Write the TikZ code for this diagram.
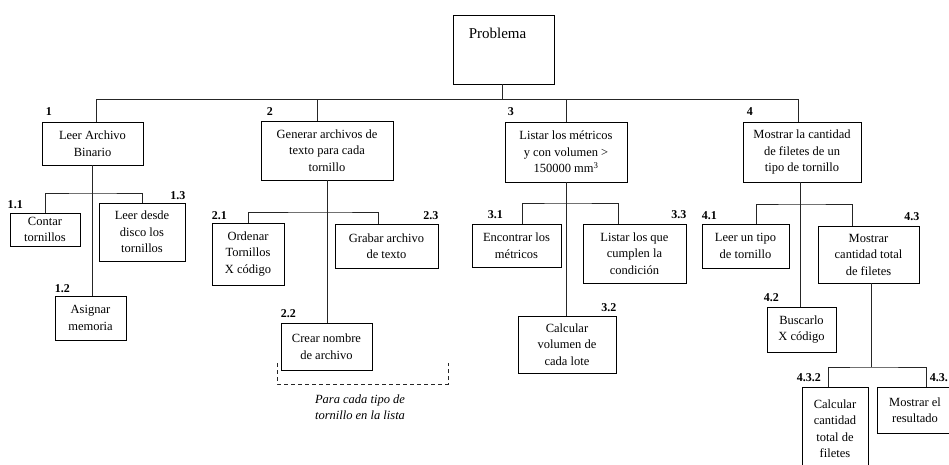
\documentclass[tikz,border=0pt]{standalone}
\usepackage{fontspec}
\setmainfont{Liberation Serif}
\tikzset{
  box/.style={draw=black, line width=0.9pt, inner sep=0pt, align=center,
    font=\fontsize{12.5}{16.5}\selectfont},
  lbl/.style={inner sep=0pt, font=\fontsize{12}{12}\selectfont\bfseries},
  conn/.style={draw=black!85, line width=0.9pt},
  note/.style={inner sep=0pt, align=center, font=\fontsize{12.5}{15.5}\selectfont\itshape}
}
\newcommand{\tbox}[6]{\node[box, minimum width={#3-#2}, minimum height={#5-#4}] (#1) at ({(#2+#3)/2},{(#4+#5)/2}) {#6};}
\begin{document}
\begin{tikzpicture}[x=1pt,y=-1pt]
\useasboundingbox (0,0) rectangle (949,465);
\clip (0,0) rectangle (949,465);
\fill[white] (0,0) rectangle (949,465);
% boxes
\tbox{P}{453}{554}{15}{84}{}
\node[inner sep=0pt, font=\fontsize{15}{15}\selectfont] (ptext) at (497.5,33) {Problema};
\tbox{n1}{42}{143}{122}{165}{Leer Archivo\\Binario}
\tbox{n2}{261}{393}{121}{180}{Generar archivos de\\texto para cada\\tornillo}
\tbox{n3}{505}{627}{122}{182}{Listar los métricos\\y con volumen >\\150000 mm\textsuperscript{3}}
\tbox{n4}{743}{861}{122}{182}{Mostrar la cantidad\\de filetes de un\\tipo de tornillo}
\tbox{n11}{10}{80}{213}{246}{Contar\\tornillos}
\tbox{n12}{55}{126}{296}{340}{Asignar\\memoria}
\tbox{n13}{99}{185}{203}{261}{Leer desde\\disco los\\tornillos}
\tbox{n21}{212}{284}{223}{285}{Ordenar\\Tornillos\\X código}
\tbox{n22}{281}{372}{323}{370}{Crear nombre\\de archivo}
\tbox{n23}{335}{438}{224}{268}{Grabar archivo\\de texto}
\tbox{n31}{472}{561}{224}{267}{Encontrar los\\métricos}
\tbox{n32}{518}{616}{316}{373}{Calcular\\volumen de\\cada lote}
\tbox{n33}{583}{686}{224}{283}{Listar los que\\cumplen la\\condición}
\tbox{n41}{702}{789}{224}{268}{Leer un tipo\\de tornillo}
\tbox{n42}{767}{836}{307}{352}{Buscarlo\\X código}
\tbox{n43}{818}{919}{226}{283}{Mostrar\\cantidad total\\de filetes}
\tbox{n432}{802}{868}{387}{470}{Calcular\\cantidad\\total de\\filetes}
\tbox{n433}{877}{953}{387}{433}{Mostrar el\\resultado}
% labels
\node[lbl, anchor=west] (l1) at ([xshift=4pt, yshift=10pt]n1.north west) {1};
\node[lbl, anchor=west] (l2) at ([xshift=6pt, yshift=9pt]n2.north west) {2};
\node[lbl, anchor=west] (l3) at ([xshift=3pt, yshift=10pt]n3.north west) {3};
\node[lbl, anchor=west] (l4) at ([xshift=4pt, yshift=10pt]n4.north west) {4};
\node[lbl, anchor=west] (l11) at ([xshift=-2pt, yshift=8pt]n11.north west) {1.1};
\node[lbl, anchor=east] (l13) at ([yshift=7pt]n13.north east) {1.3};
\node[lbl, anchor=west] (l12) at ([yshift=7pt]n12.north west) {1.2};
\node[lbl, anchor=west] (l21) at ([yshift=7pt]n21.north west) {2.1};
\node[lbl, anchor=east] (l23) at ([yshift=8pt]n23.north east) {2.3};
\node[lbl, anchor=west] (l22) at ([yshift=9pt]n22.north west) {2.2};
\node[lbl, anchor=west] (l31) at ([xshift=16pt, yshift=9pt]n31.north west) {3.1};
\node[lbl, anchor=east] (l33) at ([yshift=9pt]n33.north east) {3.3};
\node[lbl, anchor=east] (l32) at ([yshift=8pt]n32.north east) {3.2};
\node[lbl, anchor=west] (l41) at ([yshift=8pt]n41.north west) {4.1};
\node[lbl, anchor=east] (l43) at ([yshift=9pt]n43.north east) {4.3};
\node[lbl, anchor=west] (l42) at ([xshift=-3pt, yshift=9pt]n42.north west) {4.2};
\node[lbl, anchor=west] (l432) at ([xshift=-5pt, yshift=9pt]n432.north west) {4.3.2};
\node[lbl, anchor=west] (l433) at ([xshift=53pt, yshift=9pt]n433.north west) {4.3.};
% connectors
\coordinate (T) at (502,99);
\draw[conn] (P.south -| T) -- (T);
\draw[conn] ([xshift=3.5pt]n1.north) |- ([xshift=-4pt]n4.north |- T) -- ([xshift=-4pt]n4.north);
\draw[conn] ([xshift=-10pt]n2.north) -- ([xshift=-10pt]n2.north |- T);
\draw[conn] (n3.north) -- (n3.north |- T);
% 1
\coordinate (j1) at (92,193);
\draw[conn] (n1.south) -- (n1.south |- n12.north);
\draw[conn] (n11.north) |- (j1) -| (n13.north);
% 2
\coordinate (j2) at (327,212);
\draw[conn] (n2.south) -- (n2.south |- n22.north);
\draw[conn] (n21.north) |- (j2) -| ([xshift=-8.5pt]n23.north);
% 3
\coordinate (j3) at (566,203);
\draw[conn] (n3.south) -- (n3.south |- n32.north);
\draw[conn] ([xshift=5.5pt]n31.north) |- (j3) -| ([xshift=-16.5pt]n33.north);
% 4
\coordinate (j4) at (800,204);
\draw[conn] ([xshift=-2pt]n4.south) -- ([xshift=-2pt]n4.south |- n42.north);
\draw[conn] ([xshift=10.5pt]n41.north) |- (j4) -| ([xshift=-16.5pt]n43.north);
% 4.3
\coordinate (j43) at (871,367);
\draw[conn] (j43 |- n43.south) -- (j43);
\draw[conn] ([xshift=-7pt]n432.north) |- (j43) -| ([xshift=11pt]n433.north);
% dashed bracket
\coordinate (dl) at (277,363);
\coordinate (dr) at (448,363);
\draw[conn, dash pattern=on 4pt off 3pt] (dl) -- ++(0,21) -| (dr);
\node[note] (nota) at (360,407) {Para cada tipo de\\tornillo en la lista};
\end{tikzpicture}
\end{document}
